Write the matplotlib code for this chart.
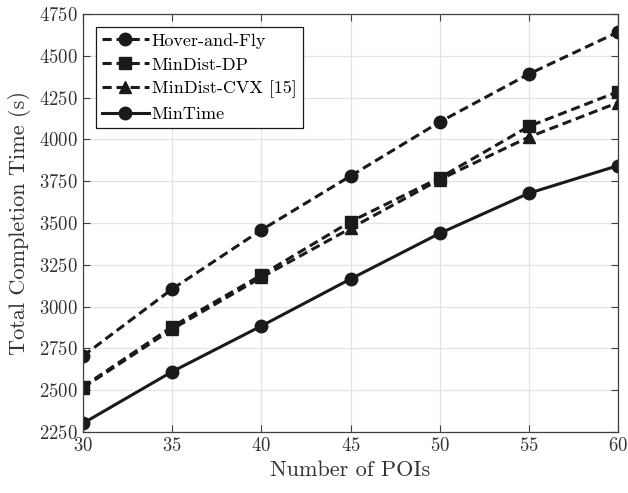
import matplotlib
matplotlib.use("Agg")
import matplotlib.pyplot as plt

plt.rcParams['font.family'] = 'serif'
plt.rcParams['font.serif'] = ['cmr10', 'DejaVu Serif']
plt.rcParams['mathtext.fontset'] = 'cm'
plt.rcParams['axes.formatter.use_mathtext'] = True

# data
num_pois = [30, 35, 40, 45, 50, 55, 60]
hover_and_fly = [2705, 3105, 3458, 3781, 4104, 4391, 4642]
mindist_dp = [2521, 2880, 3189, 3508, 3770, 4078, 4285]
mindist_cvx = [2515, 2865, 3175, 3468, 3760, 4014, 4220]
min_time = [2302, 2611, 2884, 3165, 3438, 3678, 3843]

fig = plt.figure(figsize=(6.28, 4.93), dpi=100)
ax = fig.add_axes([83 / 628, 61 / 493, 535 / 628, 418 / 493])

lw = 2.2
ms = 9
dash = (3.0, 1.6)
ax.plot(num_pois, hover_and_fly, c='#1a1a1a', lw=lw, ls='--', dashes=dash, marker='o', ms=ms, label='Hover-and-Fly')
ax.plot(num_pois, mindist_dp, c='#1a1a1a', lw=lw, ls='--', dashes=dash, marker='s', ms=ms - 1, label='MinDist-DP')
ax.plot(num_pois, mindist_cvx, c='#1a1a1a', lw=lw, ls='--', dashes=dash, marker='^', ms=ms, label='MinDist-CVX [15]')
ax.plot(num_pois, min_time, c='#1a1a1a', lw=lw, ls='-', marker='o', ms=ms, label='MinTime')

ax.set_xlim(30, 60)
ax.set_ylim(2250, 4750)
ax.set_xticks(range(30, 61, 5))
ax.set_yticks(range(2250, 4751, 250))
ax.grid(True, color='#e3e3e3', lw=0.9)
ax.set_axisbelow(True)
ax.tick_params(direction='in', labelsize=13.5, length=5, color='#404040', labelcolor='#333333',
               top=True, right=True, labeltop=False, labelright=False)
for s in ax.spines.values():
    s.set_color('#404040')
    s.set_linewidth(0.9)

ax.set_xlabel('Number of POIs', fontsize=16, color='#333333', labelpad=4)
ax.set_ylabel('Total Completion Time (s)', fontsize=16, color='#333333', labelpad=6)

leg = ax.legend(loc='upper left', fontsize=13, fancybox=False, framealpha=1, edgecolor='#1a1a1a',
                handlelength=2.6, handletextpad=0.15, borderpad=0.35, labelspacing=0.45,
                borderaxespad=0.7)
leg.get_frame().set_linewidth(0.9)

fig.savefig('out.png', dpi=100)
